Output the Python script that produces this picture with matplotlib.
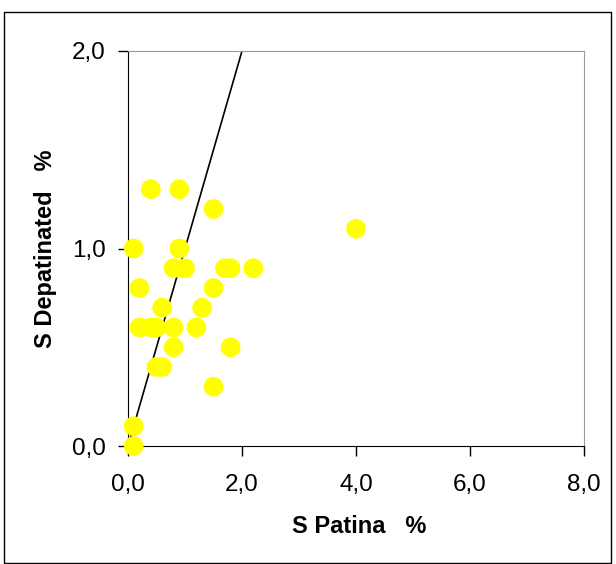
import matplotlib.pyplot as plt
from matplotlib.patches import Rectangle

plt.rcParams['font.family'] = ['Liberation Sans', 'DejaVu Sans']

# S patina vs S depatinated, values in %
s_patina = [0.4, 0.9, 1.5, 0.1, 0.9, 0.8, 1.0, 1.7, 1.8, 2.2, 0.2, 1.5,
            0.6, 1.3, 0.2, 0.4, 0.5, 0.8, 1.2, 0.8, 1.8, 0.5, 0.6, 1.5,
            0.1, 0.1, 4.0]
s_depatinated = [1.3, 1.3, 1.2, 1.0, 1.0, 0.9, 0.9, 0.9, 0.9, 0.9, 0.8, 0.8,
                 0.7, 0.7, 0.6, 0.6, 0.6, 0.6, 0.6, 0.5, 0.5, 0.4, 0.4, 0.3,
                 0.1, 0.0, 1.1]
line_x = [0.0, 2.0]
line_y = [0.0, 2.0]

fig = plt.figure(figsize=(6.16, 5.64), dpi=100)
fig.patches.append(Rectangle((4 / 616, 0.002), 607 / 616, 1 - 12 / 564 - 0.002,
                             transform=fig.transFigure, fill=False,
                             edgecolor='black', linewidth=1.0))
ax = fig.add_axes([128 / 616, 118 / 564, 456 / 616, 395 / 564])

ax.scatter(s_patina, s_depatinated, s=200, color='#ffff00', edgecolors='none',
           clip_on=False, zorder=3)
ax.plot(line_x, line_y, color='black', linewidth=1.2, zorder=2)

ax.set_xlim(0, 8)
ax.set_ylim(0, 2)
ax.set_xticks([0, 2, 4, 6, 8])
ax.set_yticks([0, 1, 2])
ax.set_xticklabels(['0,0', '2,0', '4,0', '6,0', '8,0'])
ax.set_yticklabels(['0,0', '1,0', '2,0'])
ax.tick_params(direction='out', length=7, width=1, labelsize=17.5)
ax.tick_params(axis='x', pad=13)
ax.tick_params(axis='y', pad=9)

for side in ['top', 'right']:
    ax.spines[side].set_color('#999999')
for side in ['left', 'bottom']:
    ax.spines[side].set_color('black')

ax.set_xlabel('S Patina   %', fontsize=17, fontweight='bold')
ax.set_ylabel('S Depatinated   %', fontsize=17, fontweight='bold')
ax.xaxis.set_label_coords(0.506, -0.205)
ax.yaxis.set_label_coords(-0.18, 0.499)
ax.xaxis.label.set_va('center')
ax.yaxis.label.set_va('center')

fig.savefig('out.png', dpi=100)
